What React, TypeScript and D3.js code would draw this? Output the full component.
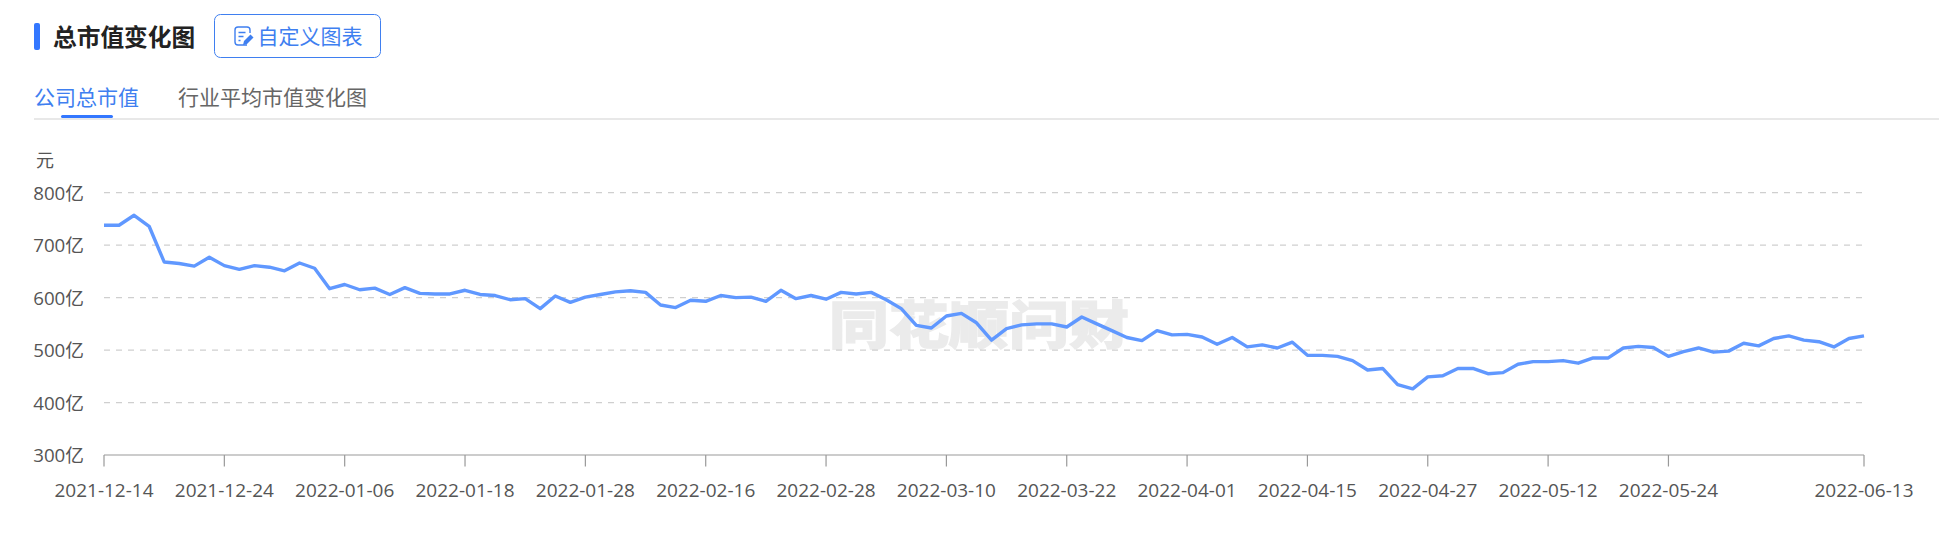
import React, { useMemo } from "react";
import * as d3 from "d3";

const dates = [
  "2021-12-14","2021-12-15","2021-12-16","2021-12-17","2021-12-20","2021-12-21","2021-12-22","2021-12-23","2021-12-24",
  "2021-12-27","2021-12-28","2021-12-29","2021-12-30","2021-12-31","2022-01-04","2022-01-05","2022-01-06",
  "2022-01-07","2022-01-10","2022-01-11","2022-01-12","2022-01-13","2022-01-14","2022-01-17","2022-01-18",
  "2022-01-19","2022-01-20","2022-01-21","2022-01-24","2022-01-25","2022-01-26","2022-01-27","2022-01-28",
  "2022-02-07","2022-02-08","2022-02-09","2022-02-10","2022-02-11","2022-02-14","2022-02-15","2022-02-16",
  "2022-02-17","2022-02-18","2022-02-21","2022-02-22","2022-02-23","2022-02-24","2022-02-25","2022-02-28",
  "2022-03-01","2022-03-02","2022-03-03","2022-03-04","2022-03-07","2022-03-08","2022-03-09","2022-03-10",
  "2022-03-11","2022-03-14","2022-03-15","2022-03-16","2022-03-17","2022-03-18","2022-03-21","2022-03-22",
  "2022-03-23","2022-03-24","2022-03-25","2022-03-28","2022-03-29","2022-03-30","2022-03-31","2022-04-01",
  "2022-04-06","2022-04-07","2022-04-08","2022-04-11","2022-04-12","2022-04-13","2022-04-14","2022-04-15",
  "2022-04-18","2022-04-19","2022-04-20","2022-04-21","2022-04-22","2022-04-25","2022-04-26","2022-04-27",
  "2022-04-28","2022-04-29","2022-05-05","2022-05-06","2022-05-09","2022-05-10","2022-05-11","2022-05-12",
  "2022-05-13","2022-05-16","2022-05-17","2022-05-18","2022-05-19","2022-05-20","2022-05-23","2022-05-24",
  "2022-05-25","2022-05-26","2022-05-27","2022-05-30","2022-05-31","2022-06-01","2022-06-02","2022-06-06",
  "2022-06-07","2022-06-08","2022-06-09","2022-06-10","2022-06-13",
];

// 总市值, 亿元
const marketCap = [
  738,738,757,736,668,665,660,677,661,
  654,661,658,651,666,656,617,625,
  615,618,606,619,608,607,607,614,
  606,604,596,598,579,603,591,601,
  606,611,613,610,586,581,595,593,
  604,600,601,593,614,598,604,597,
  610,607,610,596,579,547,542,565,
  570,552,519,541,548,550,550,544,
  563,550,537,524,518,537,529,530,
  525,511,524,506,510,504,515,490,
  490,488,480,462,465,434,426,449,
  451,465,465,455,457,473,478,478,
  480,475,485,485,504,507,505,488,
  497,504,496,498,513,508,522,527,
  519,516,506,522,527,
];

const yTicks = [300, 400, 500, 600, 700, 800];
const xTickDates = [
  "2021-12-14","2021-12-24","2022-01-06","2022-01-18","2022-01-28","2022-02-16","2022-02-28","2022-03-10",
  "2022-03-22","2022-04-01","2022-04-15","2022-04-27","2022-05-12","2022-05-24","2022-06-13",
];

const CJK = '"Noto Sans CJK SC", "Noto Sans", sans-serif';
const LABEL = '"Open Sans", "Noto Sans CJK SC", sans-serif';

export default function App() {
  const x = useMemo(() => d3.scalePoint<string>().domain(dates).range([104, 1864]), []);
  const y = useMemo(() => d3.scaleLinear().domain([300, 800]).range([455, 192.7]), []);
  const line = d3.line<number>().x((_, i) => x(dates[i])!).y((d) => y(d));
  return (
    <svg
      width={1939}
      height={542}
      style={{ position: "absolute", left: 0, top: 0, background: "#fff", display: "block" }}
    >
      <rect x={34} y={23} width={6} height={27} rx={2} fill="#3377ff" />
      <text x={53} y={46} fontFamily={CJK} fontSize={23.7} fontWeight={700} fill="#222">总市值变化图</text>

      <rect x={214.5} y={14.5} width={166} height={43} rx={6} fill="#fff" stroke="#3f7ff0" strokeWidth={1} />
      <g fill="none" stroke="#3f7ff0" strokeWidth={1.4}>
        <path d="M247 45 h-9 a3 3 0 0 1 -3 -3 v-12 a3 3 0 0 1 3 -3 h9 a3 3 0 0 1 3 3 v3" />
        <path d="M238.5 32.5 h7 M238.5 36.5 h5 M238.5 40.5 h2" />
        <path d="M243 45 l1 -4 l6.5 -6.5 l3 3 l-6.5 6.5 z" fill="#3f7ff0" stroke="none" />
      </g>
      <text x={257.5} y={44} fontFamily={CJK} fontSize={21} fill="#3f7ff0">自定义图表</text>

      <text x={34} y={105} fontFamily={CJK} fontSize={21} fill="#3f7ff0">公司总市值</text>
      <text x={178} y={105} fontFamily={CJK} fontSize={21} fill="#666">行业平均市值变化图</text>
      <rect x={34} y={118} width={1905} height={2} fill="#e8e8e8" />
      <rect x={61} y={115} width={52} height={3} rx={1.5} fill="#3377ff" />

      <text x={36} y={167} fontFamily={CJK} fontSize={18} fill="#555">元</text>

      <text
        transform="translate(979 344) scale(1 0.86)"
        textAnchor="middle"
        fontFamily={CJK}
        fontSize={60}
        fontWeight={900}
        fill="#ebebeb"
        stroke="#ebebeb"
        strokeWidth={1.5}
      >
        同花顺问财
      </text>

      {yTicks.filter((t) => t > 300).map((t) => (
        <line
          key={t}
          x1={104}
          x2={1864}
          y1={y(t)}
          y2={y(t)}
          stroke="#cfcfcf"
          strokeWidth={1.2}
          strokeDasharray="6 6"
        />
      ))}
      {yTicks.map((t) => (
        <text key={t} x={84} y={y(t) + 7} textAnchor="end" fontFamily={LABEL} fontSize={18.7} fill="#555">
          {t}亿
        </text>
      ))}

      <line x1={104} x2={1864} y1={455} y2={455} stroke="#999" strokeWidth={1.2} />
      {xTickDates.map((d) => (
        <g key={d}>
          <line x1={x(d)} x2={x(d)} y1={455} y2={466.5} stroke="#999" strokeWidth={1.2} />
          <text x={x(d)} y={497} textAnchor="middle" fontFamily={LABEL} fontSize={19} fill="#555">
            {d}
          </text>
        </g>
      ))}

      <path d={line(marketCap) || ""} fill="none" stroke="#6098ff" strokeWidth={3.4} strokeLinejoin="round" />
    </svg>
  );
}
